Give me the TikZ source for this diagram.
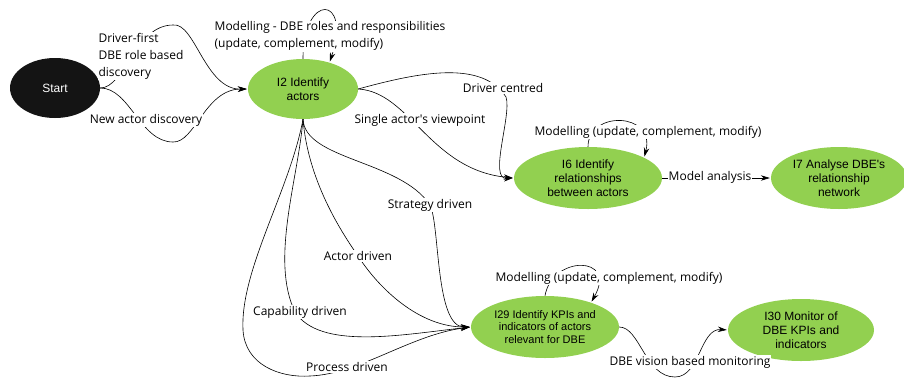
\documentclass[tikz,border=0pt]{standalone}
\usepackage{fontspec}
\setmainfont{Open Sans}
\newfontfamily\nodefont{Liberation Sans}
\usepackage{tikz}
\usetikzlibrary{arrows.meta,backgrounds,shapes.geometric}
\definecolor{actgreen}{HTML}{92D050}
\definecolor{startblack}{HTML}{141414}

\begin{document}
\begin{tikzpicture}[x=1pt,y=-1pt,
  act/.style={ellipse,fill=actgreen,inner sep=0pt,align=center,
    font=\nodefont\fontsize{12}{14}\selectfont},
  startnode/.style={ellipse,fill=startblack,text=white,inner sep=0pt,
    minimum width=90pt,minimum height=60pt,font=\nodefont\fontsize{12}{14}\selectfont},
  lbl/.style={fill=white,inner sep=1pt,font=\fontsize{12}{17}\selectfont},
  conn/.style={line width=0.6pt,-{Stealth[length=9pt,width=5.5pt]},shorten >=1pt}]
\useasboundingbox (0,0) rectangle (904,378);

\node[startnode] (start) at (55,88) {Start};
\node[act,minimum width=110pt,minimum height=60pt] (i2) at (303,89) {I2 Identify\\actors};
\node[act,minimum width=148pt,minimum height=62pt] (i6) at (588,178) {I6 Identify\\relationships\\between actors};
\node[act,minimum width=136pt,minimum height=62pt] (i7) at (839,178) {I7 Analyse DBE's\\relationship\\network};
\node[act,minimum width=148pt,minimum height=62pt,font=\nodefont\fontsize{11}{12.5}\selectfont] (i29) at (545,327) {I29 Identify KPIs and\\indicators of actors\\relevant for DBE};
\node[act,minimum width=146pt,minimum height=62pt] (i30) at (801,330) {I30 Monitor of\\DBE KPIs and\\indicators};

\node[lbl,align=left] (ldriverfirst) at (141,56) {Driver-first\\DBE role based\\discovery};
\node[lbl] (lnewactor) at (146,120) {New actor discovery};
\node[lbl,align=left] (lmodi2) at (330,36) {Modelling - DBE roles and responsibilities\\(update, complement, modify)};
\node[lbl] (ldrivercentred) at (503,88) {Driver centred};
\node[lbl] (lsingle) at (420,120) {Single actor\textquotesingle s viewpoint};
\node[lbl] (lmodi6) at (648,132) {Modelling (update, complement, modify)};
\node[lbl] (lmodel) at (710,177) {Model analysis};
\node[lbl] (lstrategy) at (430,205) {Strategy driven};
\node[lbl] (lactor) at (358,256) {Actor driven};
\node[lbl] (lcapability) at (300,312) {Capability driven};
\node[lbl] (lprocess) at (347,367) {Process driven};
\node[lbl] (lmodi29) at (609,278) {Modelling (update, complement, modify)};
\node[lbl] (lvision) at (690,362) {DBE vision based monitoring};

\begin{scope}[on background layer]
\draw[conn] (start.east) .. controls (125,88) and (135,25) .. (173,25) .. controls (195,22) and (205,90) .. (i2.west);
\draw[conn] (start.east) .. controls (130,88) and (140,142) .. (173,142) .. controls (195,143) and (205,89) .. (i2.west);
\draw[conn] (i2.north) .. controls (303,-8) and (352,-5) .. (i2.45);
\draw[conn] (i2.east) .. controls (420,72) and (482,60) .. (506,97) .. controls (512,115) and (488,180) .. (i6.west);
\draw[conn] (i2.east) .. controls (410,92) and (430,170) .. (i6.west);
\draw[conn] (i6.north) .. controls (588,110) and (656,112) .. (i6.20);
\draw[conn] (i6) -- (i7);
\draw[conn] (i2.south) .. controls (305,160) and (400,160) .. (430,205) .. controls (440,225) and (435,327) .. (i29.west);
\draw[conn] (i2.south) .. controls (308,180) and (340,230) .. (358,256) .. controls (380,290) and (420,327) .. (i29.west);
\draw[conn] (i2.south) .. controls (298,180) and (270,260) .. (295,312) .. controls (320,350) and (400,335) .. (i29.west);
\draw[conn] (i2.south) .. controls (290,190) and (240,270) .. (243,330) .. controls (245,365) and (280,378) .. (310,376) .. controls (360,374) and (410,335) .. (i29.west);
\draw[conn] (i29.north) .. controls (552,255) and (618,255) .. (i29.28);
\draw[conn] (i29.east) .. controls (640,327) and (645,377) .. (675,377) .. controls (700,377) and (700,328) .. (i30.west);
\end{scope}
\end{tikzpicture}
\end{document}
